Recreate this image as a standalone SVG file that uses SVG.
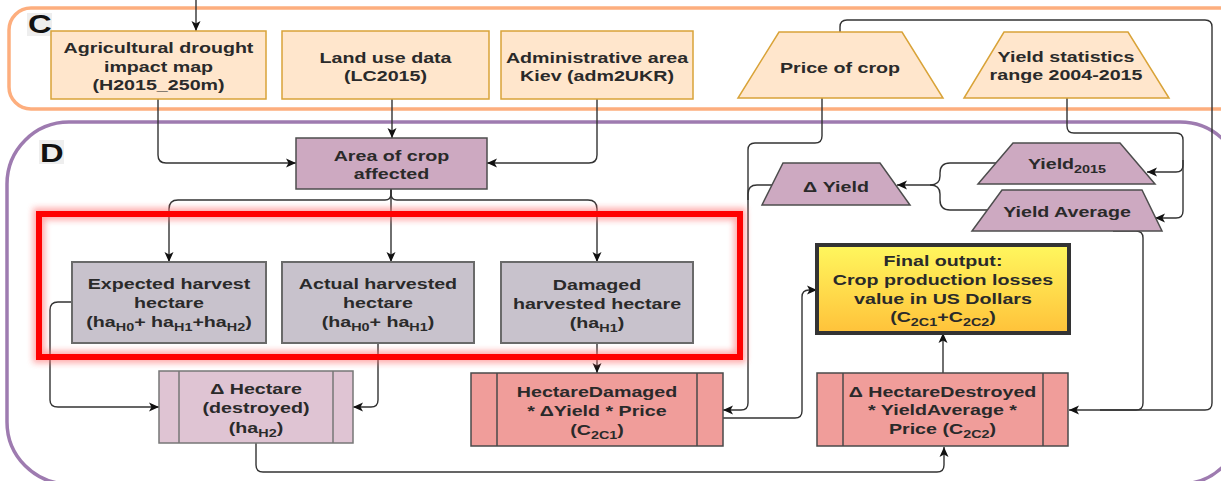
<svg xmlns="http://www.w3.org/2000/svg" width="1221" height="481" viewBox="0 0 1221 481">
  <defs>
    <style>
      .lbl { font-family: "Liberation Sans", Arial, sans-serif; font-weight: bold; font-size: 15px; fill: #2a2a2a; text-anchor: middle; }
      .sub { font-size: 11px; }
      .tag { font-family: "Liberation Sans", Arial, sans-serif; font-weight: bold; font-size: 25px; fill: #111; }
      .peach { fill: #FFE6CC; stroke: #D9A338; stroke-width: 1.5; }
      .mauve { fill: #CDA9C1; stroke: #4d4d4d; stroke-width: 1.5; }
      .grey { fill: #C8C2CC; stroke: #6a6a6a; stroke-width: 2; }
      .pink { fill: #DFC4D3; stroke: #777; stroke-width: 1.5; }
      .salmon { fill: #F09D9A; stroke: #4a4a4a; stroke-width: 1.5; }
      .div { stroke-width: 1.5; fill: none; }
      .edge { fill: none; stroke: #333; stroke-width: 1.4; marker-end: url(#arr); }
      .line { fill: none; stroke: #333; stroke-width: 1.4; }
    </style>
    <marker id="arr" viewBox="0 0 10 10" markerUnits="userSpaceOnUse" markerWidth="11" markerHeight="10" refX="10" refY="5" orient="auto">
      <path d="M0,0.5 L10,5 L0,9.5 L2.5,5 Z" fill="#111"/>
    </marker>
    <linearGradient id="gold" x1="0" y1="0" x2="0" y2="1">
      <stop offset="0" stop-color="#FFF75E"/>
      <stop offset="1" stop-color="#FFC23A"/>
    </linearGradient>
    <filter id="glow" x="-10%" y="-20%" width="120%" height="140%">
      <feGaussianBlur stdDeviation="3"/>
    </filter>
  </defs>

  <rect width="1221" height="481" fill="#fff"/>

  <!-- Containers -->
  <g id="container-c">
    <rect x="9" y="8" width="1240" height="101" rx="22" fill="#fff" stroke="#FDAE7E" stroke-width="3.5"/>
    <rect x="27" y="13" width="25" height="23" fill="#EEEEEE"/>
    <text class="tag" transform="translate(28 0) scale(1.31 1)" x="0" y="33">C</text>
  </g>
  <g id="container-d">
    <rect x="7" y="122" width="1235" height="362" rx="62" fill="#fff" stroke="#9E7BB0" stroke-width="3.5"/>
    <rect x="39" y="140" width="25" height="24" fill="#EEEEEE"/>
    <text class="tag" transform="translate(40 0) scale(1.31 1)" x="0" y="162">D</text>
  </g>

  <!-- Connectors -->
  <g id="connectors">
    <path class="edge" d="M196,0 V31"/>
    <path class="edge" d="M158,99 V155 Q158,163 166,163 H296"/>
    <path class="edge" d="M392,99 V138"/>
    <path class="edge" d="M597,99 V155 Q597,163 589,163 H487"/>
    <path class="edge" d="M391,189 V194 Q391,200 385,200 H178 Q169,200 169,209 V262"/>
    <path class="edge" d="M391,189 V262"/>
    <path class="edge" d="M391,189 V194 Q391,200 397,200 H588 Q597,200 597,209 V262"/>
    <path class="edge" d="M72,302 H58 Q50,302 50,310 V400 Q50,407 58,407 H159"/>
    <path class="edge" d="M378,343 V400 Q378,407 371,407 H353"/>
    <path class="edge" d="M597,343 V373"/>
    <path class="edge" d="M256,443 V465 Q256,472 263,472 H937 Q944,472 944,465 V447"/>
    <path class="edge" d="M723,418 H795 Q802,418 802,411 V297 Q802,290 809,290 H817"/>
    <path class="edge" d="M943,373 V333"/>
    <path class="edge" d="M822,98 V136 Q822,143 815,143 H755 Q748,143 748,150 V403 Q748,410 741,410 H723"/>
    <path class="line" d="M772,185 H757 Q748,185 748,194 V200"/>
    <path class="edge" d="M840,32 V27 Q840,20 847,20 H1205 Q1212,20 1212,27 V403 Q1212,410 1205,410 H1069"/>
    <path class="edge" d="M1067,98 V126 Q1067,133 1074,133 H1176 Q1183,133 1183,140 V165 Q1183,172 1176,172 H1147"/>
    <path class="edge" d="M1183,160 V211 Q1183,218 1176,218 H1155"/>
    <path class="edge" d="M996,163 H950 Q940,163 940,173 V176 Q940,185 930,185 H897"/>
    <path class="line" d="M987,210 H950 Q940,210 940,200 V194 Q940,185 930,185"/>
    <path class="line" d="M1113,231 H1136 Q1143,231 1143,238 V403 Q1143,410 1136,410 H1100"/>
  </g>

  <!-- Inputs (C) -->
  <g id="drought-map">
    <rect class="peach" x="51" y="31" width="215" height="68"/>
    <g class="lbl" transform="translate(158.5 0) scale(1.31 1)">
      <text x="0" y="53">Agricultural drought</text>
      <text x="0" y="72">impact map</text>
      <text x="0" y="90">(H2015_250m)</text>
    </g>
  </g>
  <g id="land-use">
    <rect class="peach" x="282" y="31" width="207" height="68"/>
    <g class="lbl" transform="translate(385.5 0) scale(1.31 1)">
      <text x="0" y="63">Land use data</text>
      <text x="0" y="81">(LC2015)</text>
    </g>
  </g>
  <g id="admin-area">
    <rect class="peach" x="501" y="31" width="192" height="68"/>
    <g class="lbl" transform="translate(597 0) scale(1.31 1)">
      <text x="0" y="63">Administrative area</text>
      <text x="0" y="81">Kiev (adm2UKR)</text>
    </g>
  </g>
  <g id="price">
    <polygon class="peach" points="779,32 902,32 943,98 738,98"/>
    <g class="lbl" transform="translate(840 0) scale(1.31 1)">
      <text x="0" y="73">Price of crop</text>
    </g>
  </g>
  <g id="yield-stats">
    <polygon class="peach" points="1004,32 1128,32 1169,98 964,98"/>
    <g class="lbl" transform="translate(1066 0) scale(1.31 1)">
      <text x="0" y="62">Yield statistics</text>
      <text x="0" y="80">range 2004-2015</text>
    </g>
  </g>

  <!-- Processing (D) -->
  <g id="area-affected">
    <rect class="mauve" x="296" y="138" width="191" height="51"/>
    <g class="lbl" transform="translate(391.5 0) scale(1.31 1)">
      <text x="0" y="161">Area of crop</text>
      <text x="0" y="179">affected</text>
    </g>
  </g>
  <g id="yield-2015">
    <polygon class="mauve" points="1013,143 1120,143 1155,184 978,184"/>
    <g class="lbl" transform="translate(1067 0) scale(1.31 1)">
      <text x="0" y="169">Yield<tspan class="sub" dy="4">2015</tspan></text>
    </g>
  </g>
  <g id="yield-average">
    <polygon class="mauve" points="1002,190 1142,190 1162,231 972,231"/>
    <g class="lbl" transform="translate(1067 0) scale(1.31 1)">
      <text x="0" y="217">Yield Average</text>
    </g>
  </g>
  <g id="delta-yield">
    <polygon class="mauve" points="783,163 880,163 910,205 762,205"/>
    <g class="lbl" transform="translate(836 0) scale(1.31 1)">
      <text x="0" y="192">Δ Yield</text>
    </g>
  </g>

  <g id="expected">
    <rect class="grey" x="72" y="262" width="194" height="81"/>
    <g class="lbl" transform="translate(169 0) scale(1.31 1)">
      <text x="0" y="289">Expected harvest</text>
      <text x="0" y="308">hectare</text>
      <text x="0" y="327">(ha<tspan class="sub" dy="4">H0</tspan><tspan dy="-4">+ ha</tspan><tspan class="sub" dy="4">H1</tspan><tspan dy="-4">+ha</tspan><tspan class="sub" dy="4">H2</tspan><tspan dy="-4">)</tspan></text>
    </g>
  </g>
  <g id="actual">
    <rect class="grey" x="282" y="262" width="192" height="81"/>
    <g class="lbl" transform="translate(378 0) scale(1.31 1)">
      <text x="0" y="289">Actual harvested</text>
      <text x="0" y="308">hectare</text>
      <text x="0" y="327">(ha<tspan class="sub" dy="4">H0</tspan><tspan dy="-4">+ ha</tspan><tspan class="sub" dy="4">H1</tspan><tspan dy="-4">)</tspan></text>
    </g>
  </g>
  <g id="damaged">
    <rect class="grey" x="501" y="262" width="192" height="81"/>
    <g class="lbl" transform="translate(597 0) scale(1.31 1)">
      <text x="0" y="290">Damaged</text>
      <text x="0" y="309">harvested hectare</text>
      <text x="0" y="328">(ha<tspan class="sub" dy="4">H1</tspan><tspan dy="-4">)</tspan></text>
    </g>
  </g>

  <!-- Highlight frame -->
  <g id="highlight">
    <rect x="39" y="214" width="701" height="143" fill="none" stroke="#FF7070" stroke-width="12" opacity="0.6" filter="url(#glow)"/>
    <rect x="39" y="214" width="701" height="143" fill="none" stroke="#FF0000" stroke-width="6"/>
  </g>

  <g id="delta-hectare">
    <rect class="pink" x="159" y="371" width="194" height="72"/>
    <path class="div" stroke="#777" d="M179,371 V443 M333,371 V443"/>
    <g class="lbl" transform="translate(256 0) scale(1.31 1)">
      <text x="0" y="394">Δ Hectare</text>
      <text x="0" y="413">(destroyed)</text>
      <text x="0" y="433">(ha<tspan class="sub" dy="4">H2</tspan><tspan dy="-4">)</tspan></text>
    </g>
  </g>
  <g id="hectare-damaged">
    <rect class="salmon" x="471" y="373" width="252" height="73"/>
    <path class="div" stroke="#4a4a4a" d="M497,373 V446 M697,373 V446"/>
    <g class="lbl" transform="translate(597 0) scale(1.31 1)">
      <text x="0" y="397">HectareDamaged</text>
      <text x="0" y="416">* ΔYield * Price</text>
      <text x="0" y="435">(C<tspan class="sub" dy="4">2C1</tspan><tspan dy="-4">)</tspan></text>
    </g>
  </g>
  <g id="hectare-destroyed">
    <rect class="salmon" x="817" y="373" width="251" height="73"/>
    <path class="div" stroke="#4a4a4a" d="M843,373 V446 M1043,373 V446"/>
    <g class="lbl" transform="translate(942.5 0) scale(1.31 1)">
      <text x="0" y="397">Δ HectareDestroyed</text>
      <text x="0" y="415">* YieldAverage *</text>
      <text x="0" y="434">Price (C<tspan class="sub" dy="4">2C2</tspan><tspan dy="-4">)</tspan></text>
    </g>
  </g>
  <g id="final-output">
    <rect x="817" y="245" width="252" height="88" fill="url(#gold)" stroke="#333" stroke-width="4"/>
    <g class="lbl" transform="translate(943 0) scale(1.31 1)">
      <text x="0" y="266">Final output:</text>
      <text x="0" y="285">Crop production losses</text>
      <text x="0" y="304">value in US Dollars</text>
      <text x="0" y="322">(C<tspan class="sub" dy="4">2C1</tspan><tspan dy="-4">+C</tspan><tspan class="sub" dy="4">2C2</tspan><tspan dy="-4">)</tspan></text>
    </g>
  </g>
</svg>
